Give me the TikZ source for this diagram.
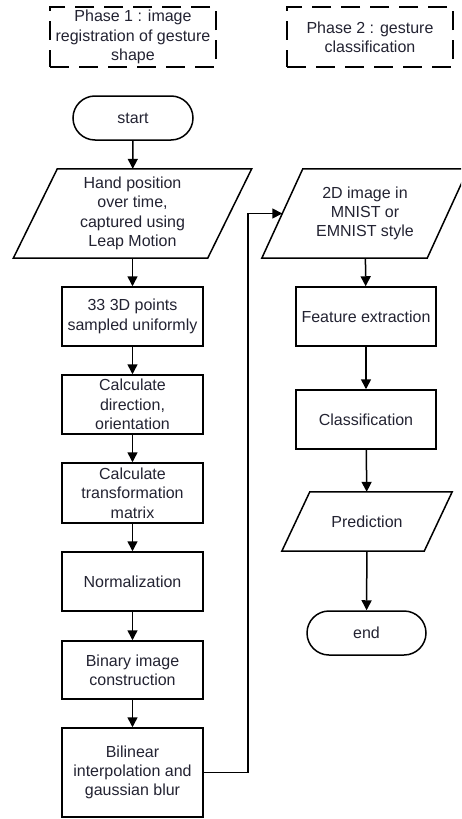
\documentclass[tikz,border=0pt]{standalone}
\usepackage{fontspec}
\setmainfont{Liberation Sans}
\usetikzlibrary{arrows.meta}
\definecolor{txt}{RGB}{35,35,50}
\begin{document}
\begin{tikzpicture}[x=1pt,y=-1pt,
  every node/.style={font=\fontsize{16}{19.3}\selectfont, text=txt, align=center, inner sep=0pt},
  box/.style={draw, line width=1.5pt, minimum width=141pt, minimum height=59pt},
  rbox/.style={draw, line width=1.5pt, minimum width=140pt, minimum height=59pt},
  term/.style={draw, line width=1.5pt, rounded corners=22pt, minimum height=44pt},
  para/.style={minimum height=89pt},
  phase/.style={draw, line width=1.8pt, dash pattern=on 19pt off 10pt, minimum width=166pt, minimum height=60pt},
  arr/.style={line width=1.5pt, -{Triangle[length=10pt,width=10pt]}},
  pline/.style={line width=1.5pt, line join=miter}
]
\clip (0,0) rectangle (461,819);
\fill[white] (0,0) rectangle (461,819);

% phase boxes
\node[phase] (ph1) at (133,37) {Phase 1 : image\\registration of gesture\\shape};
\node[phase] (ph2) at (370,37) {Phase 2 : gesture\\classification};

% left column
\node[term, minimum width=120pt] (start) at (133,118) {start};
\node[minimum width=194pt, minimum height=89pt] (hand) at (132.5,213.5) {Hand position\\over time,\\captured using\\Leap Motion};
\draw[pline] ([xshift=22pt]hand.north west) -- ([xshift=22pt]hand.north east) -- ([xshift=-22pt]hand.south east) -- ([xshift=-22pt]hand.south west) -- cycle;
\node[box] (pts) at (132.5,316.5) {33 3D points\\sampled uniformly};
\node[box] (dir) at (132.5,404.5) {Calculate\\direction,\\orientation};
\node[box, minimum height=60pt] (trans) at (132.5,493) {Calculate\\transformation\\matrix};
\node[box] (norm) at (132.5,581.5) {Normalization};
\node[box, minimum height=58pt] (bin) at (132.5,670) {Binary image\\construction};
\node[box, minimum height=89pt] (bil) at (132.5,772.5) {Bilinear\\interpolation and\\gaussian blur};

% right column
\node[minimum width=165pt, minimum height=89pt] (img) at (365,213.5) {2D image in\\MNIST or\\EMNIST style};
\draw[pline] ([xshift=20.5pt]img.north west) -- ([xshift=20.5pt]img.north east) -- ([xshift=-20.5pt]img.south east) -- ([xshift=-20.5pt]img.south west) -- cycle;
\node[rbox] (feat) at (366,316.5) {Feature extraction};
\node[rbox] (cls) at (366,419.5) {Classification};
\node[minimum width=142pt, minimum height=59pt] (pred) at (367,521.5) {Prediction};
\draw[pline] ([xshift=14pt]pred.north west) -- ([xshift=14pt]pred.north east) -- ([xshift=-14pt]pred.south east) -- ([xshift=-14pt]pred.south west) -- cycle;
\node[term, minimum width=119pt] (end) at (366.5,633) {end};

% connectors
\draw[arr] (start) -- (hand);
\draw[arr] (hand) -- (pts);
\draw[arr] (pts) -- (dir);
\draw[arr] (dir) -- (trans);
\draw[arr] (trans) -- (norm);
\draw[arr] (norm) -- (bin);
\draw[arr] (bin) -- (bil);
\draw[arr, rounded corners=0pt] (bil.east) -- ++(44,0) |- (img.west);
\draw[arr] (img) -- (feat);
\draw[arr] (feat) -- (cls);
\draw[arr] (cls) -- (pred);
\draw[arr] (pred) -- (end);
\end{tikzpicture}
\end{document}
